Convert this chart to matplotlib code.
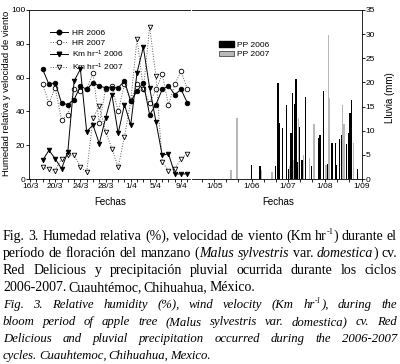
import numpy as np
import pandas as pd
import matplotlib.pyplot as plt
import matplotlib.dates as mdates
from matplotlib.ticker import FuncFormatter
from matplotlib.lines import Line2D
from matplotlib.patches import Patch
from matplotlib.transforms import IdentityTransform

plt.rcParams['font.family'] = 'Liberation Sans'
plt.rcParams['mathtext.fontset'] = 'custom'
plt.rcParams['mathtext.rm'] = 'Liberation Sans'
plt.rcParams['mathtext.it'] = 'Liberation Sans:italic'
plt.rcParams['axes.linewidth'] = 0.6


#%% Datos
# humedad relativa (%) y viento (Km/hr), floracion 18/3 - 10/4
fechas = pd.date_range('2006-03-18', '2006-04-10')
hr_2006 = [65, 56, 57, 45, 44, 47, 55, 53, 57, 55, 54, 54, 54, 58, 46, 52,
           57, 38, 44, 53, 55, 50, 53, 45]
hr_2007 = [56, 45, 54, 35, 38, 53, 52, 53, 63, 33, 53, 55, 40, 56, 46, 56,
           53, 45, 53, 62, 44, 56, 64, 53]
km_2006 = [11, 17, 12, 6, 16, 58, 65, 28, 32, 21, 36, 50, 27, 44, 32, 63,
           78, 54, 34, 14, 15, 3, 3, 3]
km_2007 = [7, 6, 5, 12, 14, 14, 7, 4, 36, 43, 28, 18, 7, 25, 46, 83,
           53, 90, 61, 10, 5, 6, 12, 15]
ticks_izq = ['2006-03-16', '2006-03-20', '2006-03-24', '2006-03-28',
             '2006-04-01', '2006-04-05', '2006-04-09']

# lluvia diaria (mm)
pp06_fechas = ['06-01', '06-08', '06-21', '06-23', '06-24', '06-27', '06-30',
               '07-02', '07-04', '07-05', '07-07', '07-08', '07-09', '07-11',
               '07-13', '07-16', '07-21', '07-27', '07-28', '07-31', '08-03',
               '08-07', '08-10', '08-11', '08-13', '08-15', '08-19', '08-21',
               '08-22', '08-23', '08-28']
pp_2006 = [3.0, 2.7, 2.7, 19.8, 11.5, 10.5, 15.3, 2.0, 9.5, 17.9, 15.5, 20.8,
           3.5, 10.8, 3.9, 16.9, 2.6, 8.4, 9.1, 18.3, 3.2, 7.5, 7.4, 3.0, 8.3,
           9.1, 7.2, 9.5, 13.6, 16.4, 2.0]
pp07_fechas = ['05-15', '05-20', '06-09', '06-18', '07-03', '07-06', '07-10',
               '07-14', '07-19', '07-23', '08-02', '08-04', '08-05', '08-16',
               '08-17', '08-25']
pp_2007 = [1.9, 12.6, 1.9, 1.5, 2.6, 4.0, 12.6, 5.0, 4.3, 11.4, 3.0, 29.8,
           16.7, 15.3, 11.3, 7.4]
ticks_der = ['2006-05-01', '2006-06-01', '2006-07-01', '2006-08-01',
             '2006-09-01']

caption = [
    ("Fig. 3. Humedad relativa (%), velocidad de viento (Km hr^-1^) durante el", True),
    ("período de floración del manzano (*Malus sylvestris* var. *domestica*) cv.", True),
    ("Red Delicious y precipitación pluvial ocurrida durante los ciclos", True),
    ("2006-2007. Cuauhtémoc, Chihuahua, México.", False),
    ("*Fig. 3. Relative humidity (%), wind velocity (Km hr^-1^), during the*", True),
    ("*bloom period of apple tree (Malus sylvestris var. domestica) cv. Red*", True),
    ("*Delicious and pluvial precipitation occurred during the 2006-2007*", True),
    ("*cycles. Cuauhtemoc, Chihuahua, Mexico.*", False),
]


#%% Figura
W, H = 400, 364
fig = plt.figure(figsize=(W / 100, H / 100), dpi=100)


def axes_px(x0, y0, x1, y1):
    return fig.add_axes([x0 / W, 1 - y1 / H, (x1 - x0) / W, (y1 - y0) / H])


ax1 = axes_px(29, 10, 190, 179)
ax2 = axes_px(191.5, 10, 362, 179)

mk = dict(ms=3.3, mew=0.6, mec='k', clip_on=False)
ax1.plot(fechas, hr_2007, ':', color='0.35', lw=0.7, marker='o', mfc='white', **mk)
ax1.plot(fechas, km_2007, ':', color='0.35', lw=0.7, marker='v', mfc='white', **mk)
ax1.plot(fechas, km_2006, '-', color='k', lw=0.7, marker='v', mfc='k', **mk)
ax1.plot(fechas, hr_2006, '-', color='k', lw=0.7, marker='o', mfc='k', **mk)

ax1.set_xlim(pd.Timestamp('2006-03-15 20:00'), pd.Timestamp('2006-04-10 10:00'))
ax1.set_ylim(0, 100)
ax1.set_yticks(range(0, 101, 20))
ax1.set_xticks(pd.to_datetime(ticks_izq))
ax1.xaxis.set_minor_locator(mdates.DayLocator())
ax1.xaxis.set_major_formatter(FuncFormatter(
    lambda v, p: '{}/{}'.format(mdates.num2date(v).day, mdates.num2date(v).month)))
ax1.spines['right'].set_visible(False)

leg1 = [
    Line2D([], [], ls='-', color='k', lw=0.7, marker='o', ms=3.3, mfc='k', mec='k'),
    Line2D([], [], ls=':', color='0.35', lw=0.7, marker='o', ms=3.3, mfc='white', mec='k', mew=0.6),
    Line2D([], [], ls='-', color='k', lw=0.7, marker='v', ms=3.3, mfc='k', mec='k'),
    Line2D([], [], ls=':', color='0.35', lw=0.7, marker='v', ms=3.3, mfc='white', mec='k', mew=0.6),
]
ax1.legend(leg1, ['HR 2006', 'HR 2007', 'Km hr$^{-1}$ 2006', 'Km hr$^{-1}$ 2007'],
           loc='upper left', bbox_to_anchor=(0.13, 0.885), frameon=False,
           fontsize=6, handlelength=2.2, handletextpad=0.5, labelspacing=0.2,
           borderpad=0, borderaxespad=0)

# lluvia
d06 = pd.to_datetime(['2006-' + f for f in pp06_fechas])
d07 = pd.to_datetime(['2006-' + f for f in pp07_fechas])
ax2.bar(d07, pp_2007, width=1.1, color='0.72', lw=0)
ax2.bar(d06, pp_2006, width=1.1, color='k', lw=0)
ax2.set_xlim(pd.Timestamp('2006-04-12'), pd.Timestamp('2006-09-01'))
ax2.set_ylim(0, 35)
ax2.set_yticks(range(0, 36, 5))
ax2.set_xticks(pd.to_datetime(ticks_der))
ax2.xaxis.set_minor_locator(mdates.DayLocator(bymonthday=[11, 21]))
ax2.xaxis.set_major_formatter(FuncFormatter(
    lambda v, p: '{}/{:02d}'.format(mdates.num2date(v).day, mdates.num2date(v).month)))
ax2.spines['left'].set_visible(False)
ax2.yaxis.tick_right()
ax2.legend([Patch(color='k'), Patch(fc='0.72', ec='k', lw=0.4)], ['PP 2006', 'PP 2007'],
           loc='upper left', bbox_to_anchor=(0.16, 0.815), frameon=False,
           fontsize=6, handlelength=1.8, handleheight=0.6, handletextpad=0.4,
           labelspacing=0.2, borderpad=0, borderaxespad=0)

for ax in (ax1, ax2):
    ax.tick_params(which='both', direction='out', width=0.6, labelsize=6, pad=0.5)
    ax.tick_params(which='major', length=2.2)
    ax.tick_params(which='minor', length=1.8)

fig.text(7 / W, 1 - 93 / H, 'Humedad relativa y velocidad de viento', rotation=90,
         ha='center', va='center', fontsize=6.8)
fig.text(390 / W, 1 - 98 / H, 'Lluvia (mm)', rotation=90, ha='center', va='center', fontsize=7)
fig.text(110 / W, 1 - 202 / H, 'Fechas', ha='center', va='center', fontsize=7)
fig.text(278 / W, 1 - 202 / H, 'Fechas', ha='center', va='center', fontsize=7)


#%% Pie de figura (texto justificado)
def parse(line):
    words, italic, sup = [], False, False
    for w in line.split(' '):
        segs, buf = [], ''
        for ch in w:
            if ch in '*^':
                if buf:
                    segs.append((buf, italic, sup))
                buf = ''
                if ch == '*':
                    italic = not italic
                else:
                    sup = not sup
            else:
                buf += ch
        if buf:
            segs.append((buf, italic, sup))
        words.append(segs)
    return words


renderer = fig.canvas.get_renderer()
x_left, x_right = 3, 397
for i, (line, just) in enumerate(caption):
    fs = 9.2 if line.startswith('*') else 10.0
    y = H - (240 + 17 * i)
    items, widths = [], []
    for segs in parse(line):
        ts, wsum = [], 0
        for txt, it, sup in segs:
            t = fig.text(0, 0, txt, transform=IdentityTransform(), family='Liberation Serif',
                         fontsize=fs * 0.6 if sup else fs,
                         style='italic' if it else 'normal', ha='left', va='baseline')
            w = t.get_window_extent(renderer).width
            ts.append((t, w, sup))
            wsum += w
        items.append(ts)
        widths.append(wsum)
    if just:
        gap = (x_right - x_left - sum(widths)) / (len(widths) - 1)
    else:
        gap = fs * 0.2
    x = x_left
    for ts, wsum in zip(items, widths):
        for t, w, sup in ts:
            t.set_position((x, y + (fs * 0.55 if sup else 0)))
            x += w
        x += gap

fig.savefig('out.png', dpi=100)
